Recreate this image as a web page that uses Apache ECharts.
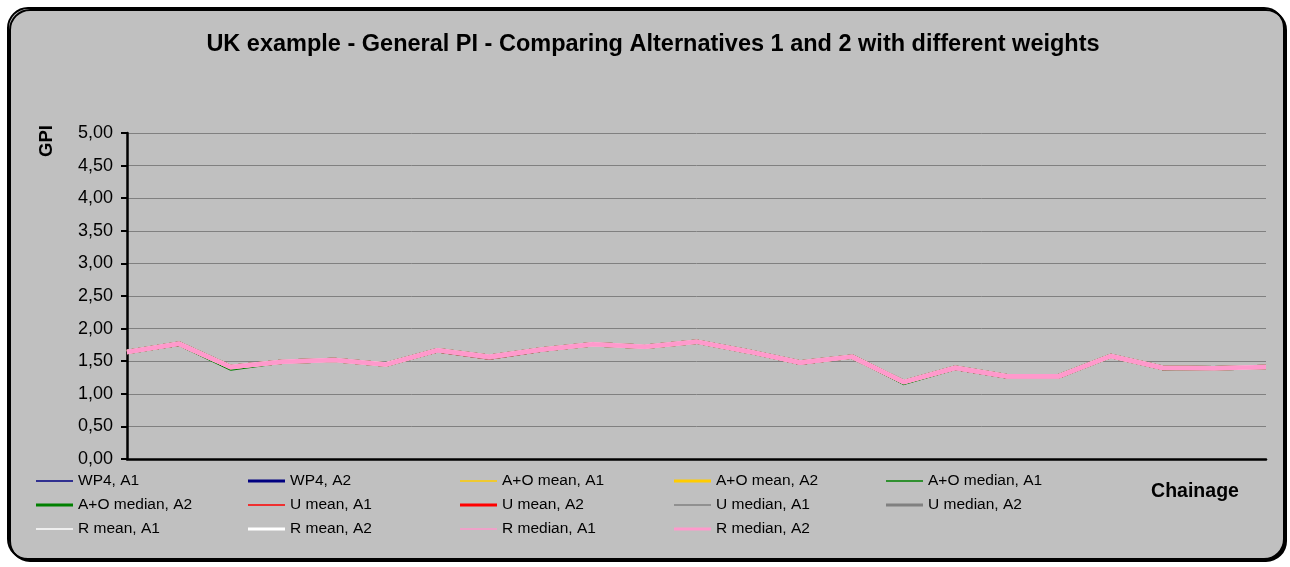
<!DOCTYPE html>
<html>
<head>
<meta charset="utf-8">
<script src="https://cdn.jsdelivr.net/npm/echarts@6/dist/echarts.min.js"></script>
<style>
html,body{margin:0;padding:0;background:#ffffff;}
#chart{width:1290px;height:567px;}
</style>
</head>
<body>
<div id="chart"></div>
<script>
// ---- data ----
var chainage = ['1','2','3','4','5','6','7','8','9','10','11','12','13','14','15','16','17','18','19','20','21','22','23'];
var valuesA2 = [1.64,1.77,1.41,1.49,1.52,1.45,1.67,1.57,1.68,1.76,1.72,1.80,1.65,1.48,1.57,1.18,1.40,1.27,1.27,1.58,1.40,1.39,1.41];
var valuesA1 = [1.62,1.74,1.39,1.47,1.50,1.43,1.64,1.53,1.65,1.74,1.70,1.78,1.63,1.45,1.55,1.16,1.37,1.24,1.24,1.56,1.37,1.38,1.40];
var aoMedianA1 = [1.62,1.74,1.36,1.47,1.50,1.43,1.64,1.53,1.65,1.74,1.70,1.78,1.63,1.45,1.55,1.14,1.37,1.24,1.24,1.56,1.37,1.38,1.40];
var rMeanA1 = [1.64,1.77,1.41,1.49,1.52,1.48,1.67,1.57,1.68,1.76,1.72,1.80,1.65,1.48,1.57,1.18,1.40,1.27,1.27,1.58,1.40,1.39,1.41];
var seriesNames = ['WP4, A1','WP4, A2','A+O mean, A1','A+O mean, A2','A+O median, A1','A+O median, A2',
  'U mean, A1','U mean, A2','U median, A1','U median, A2','R mean, A1','R mean, A2','R median, A1','R median, A2'];
var seriesColors = ['#000080','#000080','#FFCC00','#FFCC00','#008000','#008000','#FF0000','#FF0000',
  '#808080','#808080','#FFFFFF','#FFFFFF','#FF99CC','#FF99CC'];
var seriesData = [valuesA1, valuesA2, valuesA1, valuesA2, aoMedianA1, valuesA2, valuesA1, valuesA2,
  valuesA1, valuesA2, rMeanA1, valuesA2, valuesA1, valuesA2];

var FONT = 'Liberation Sans, Arial, sans-serif';
var chart = echarts.init(document.getElementById('chart'));

function isThin(name){ return name.indexOf('A1') === name.length - 2; }

var series = seriesNames.map(function(n, i){
  return {
    name: n, type: 'line', data: seriesData[i], symbol: 'none',
    lineStyle: {color: seriesColors[i], width: isThin(n) ? 1 : 4.5},
    itemStyle: {color: seriesColors[i]},
    z: 2 + i
  };
});

var cols = [
  ['WP4, A1','A+O median, A2','R mean, A1'],
  ['WP4, A2','U mean, A1','R mean, A2'],
  ['A+O mean, A1','U mean, A2','R median, A1'],
  ['A+O mean, A2','U median, A1','R median, A2'],
  ['A+O median, A1','U median, A2']
];
var colLeft = [36, 248, 460, 674, 886];
var legends = cols.map(function(c, i){
  return {
    orient: 'vertical', left: colLeft[i], top: 473,
    data: c.map(function(n){
      return {name: n, icon: isThin(n) ? 'path://M0,0H37V1.3H0Z' : 'path://M0,0H37V3H0Z'};
    }),
    itemWidth: 37, itemHeight: 16, itemGap: 8, padding: 0,
    symbolKeepAspect: true,
    selectedMode: false,
    itemStyle: {borderWidth: 0},
    textStyle: {fontFamily: FONT, fontSize: 15.5, color: '#000'}
  };
});

chart.setOption({
  animation: false,
  backgroundColor: 'transparent',
  graphic: [
    {type: 'rect', z: -10, shape: {x: 8, y: 8, width: 1276, height: 551, r: 20},
     style: {fill: '#C0C0C0', stroke: '#000', lineWidth: 2, shadowColor: '#000', shadowOffsetX: 2, shadowOffsetY: 2, shadowBlur: 0}},
    {type: 'text', x: 47, y: 141, rotation: Math.PI/2,
     style: {text: 'GPI', font: 'bold 18.5px ' + FONT, fill: '#000', textAlign: 'center', textVerticalAlign: 'middle'}},
    {type: 'text', x: 1195, y: 492,
     style: {text: 'Chainage', font: 'bold 19.5px ' + FONT, fill: '#000', textAlign: 'center', textVerticalAlign: 'middle'}}
  ],
  title: {
    text: 'UK example - General PI - Comparing Alternatives 1 and 2 with different weights',
    left: 648, textAlign: 'center', top: 28,
    textStyle: {fontFamily: FONT, fontSize: 23.5, fontWeight: 'bold', color: '#000'}
  },
  legend: legends,
  grid: {left: 127, right: 24, top: 133, bottom: 108},
  xAxis: {
    type: 'category', data: chainage, boundaryGap: false,
    axisLine: {lineStyle: {color: '#000', width: 2.5}},
    axisTick: {show: false}, axisLabel: {show: false}, splitLine: {show: false}
  },
  yAxis: {
    type: 'value', min: 0, max: 5, interval: 0.5,
    axisLine: {show: true, lineStyle: {color: '#000', width: 2.5}},
    axisTick: {show: true, length: 6, lineStyle: {color: '#000', width: 2}},
    axisLabel: {fontFamily: FONT, fontSize: 18, color: '#000', margin: 14,
      formatter: function(v){ return v.toFixed(2).replace('.', ','); }},
    splitLine: {lineStyle: {color: '#808080', width: 1}}
  },
  series: series
});
</script>
</body>
</html>
